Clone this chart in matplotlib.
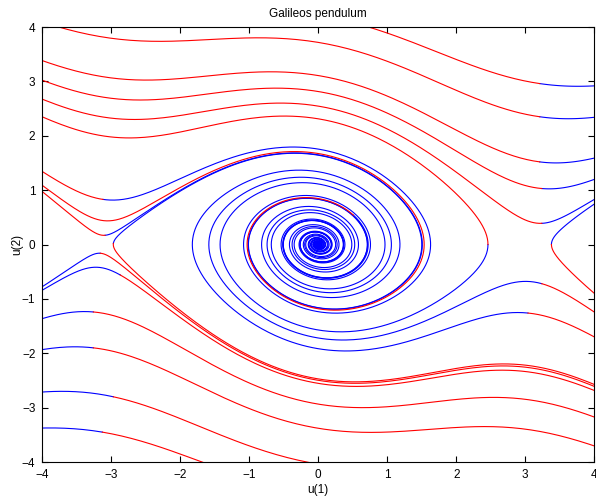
import numpy as np
import matplotlib
matplotlib.use("Agg")
import matplotlib.pyplot as plt

# starting points (where a curve turns from red to blue)
u1_start = [3.21, 3.21, 3.21, 3.24, 3.24, 3.38, 3.24, 3.04,
            -3.12, -3.09, -2.97, -3.16, -2.87, -3.26, -3.26, -2.97, -3.13,
            2.46, 0.51]
u2_start = [2.96, 2.35, 1.52, 1.03, 0.39, 0.00, -0.72, -1.26,
            0.83, 0.17, 0.02, -0.16, -0.56, -1.24, -1.90, -2.80, -3.45,
            0.00, 0.54]

stiff = 1.05      # g/L
damp = 0.21       # friction, u2' = -stiff*sin(u1) - damp*u2
t_forward = 150.0
t_backward = 60.0
h = 0.02


def rhs(u1, u2):
    return u2, -stiff * np.sin(u1) - damp * u2


def integrate(u1, u2, t_end, step):
    # classic RK4 on all starting points at once, a path is cut once it leaves the box
    n = int(round(t_end / abs(step)))
    u1 = np.array(u1, dtype=float)
    u2 = np.array(u2, dtype=float)
    path1 = np.empty((n + 1, len(u1)))
    path2 = np.empty((n + 1, len(u1)))
    path1[0] = u1
    path2[0] = u2
    for i in range(n):
        a1, a2 = rhs(u1, u2)
        b1, b2 = rhs(u1 + step / 2 * a1, u2 + step / 2 * a2)
        c1, c2 = rhs(u1 + step / 2 * b1, u2 + step / 2 * b2)
        d1, d2 = rhs(u1 + step * c1, u2 + step * c2)
        u1 = u1 + step / 6 * (a1 + 2 * b1 + 2 * c1 + d1)
        u2 = u2 + step / 6 * (a2 + 2 * b2 + 2 * c2 + d2)
        out = (np.abs(u1) > 4.6) | (np.abs(u2) > 4.6)
        u1[out] = np.nan
        u2[out] = np.nan
        path1[i + 1] = u1
        path2[i + 1] = u2
        if np.all(np.isnan(u1)):
            return path1[:i + 2], path2[:i + 2]
    return path1, path2


fwd1, fwd2 = integrate(u1_start, u2_start, t_forward, h)
bwd1, bwd2 = integrate(u1_start, u2_start, t_backward, -h)

fig = plt.figure(figsize=(5.96, 4.96), dpi=100)
ax = fig.add_axes([0.071, 0.0685, 0.926, 0.877])

for k in range(len(u1_start)):
    ax.plot(fwd1[:, k], fwd2[:, k], color="b", lw=0.8)
    ax.plot(bwd1[:, k], bwd2[:, k], color="r", lw=0.8)

ax.set_xlim(-4, 4)
ax.set_ylim(-4, 4)
ax.set_xticks(np.arange(-4, 5))
ax.set_yticks(np.arange(-4, 5))
ax.tick_params(direction="in", top=True, right=True, length=4, labelsize=8.5, pad=5)
for lab in ax.get_xticklabels() + ax.get_yticklabels():
    lab.set_family("Liberation Sans")
ax.set_title("Galileos pendulum", fontsize=8.5, family="Liberation Sans", pad=7)
ax.set_xlabel("u(1)", fontsize=8.5, family="Liberation Sans", labelpad=2)
ax.set_ylabel("u(2)", fontsize=8.5, family="Liberation Sans", labelpad=-1)

fig.savefig("out.png", dpi=100)
